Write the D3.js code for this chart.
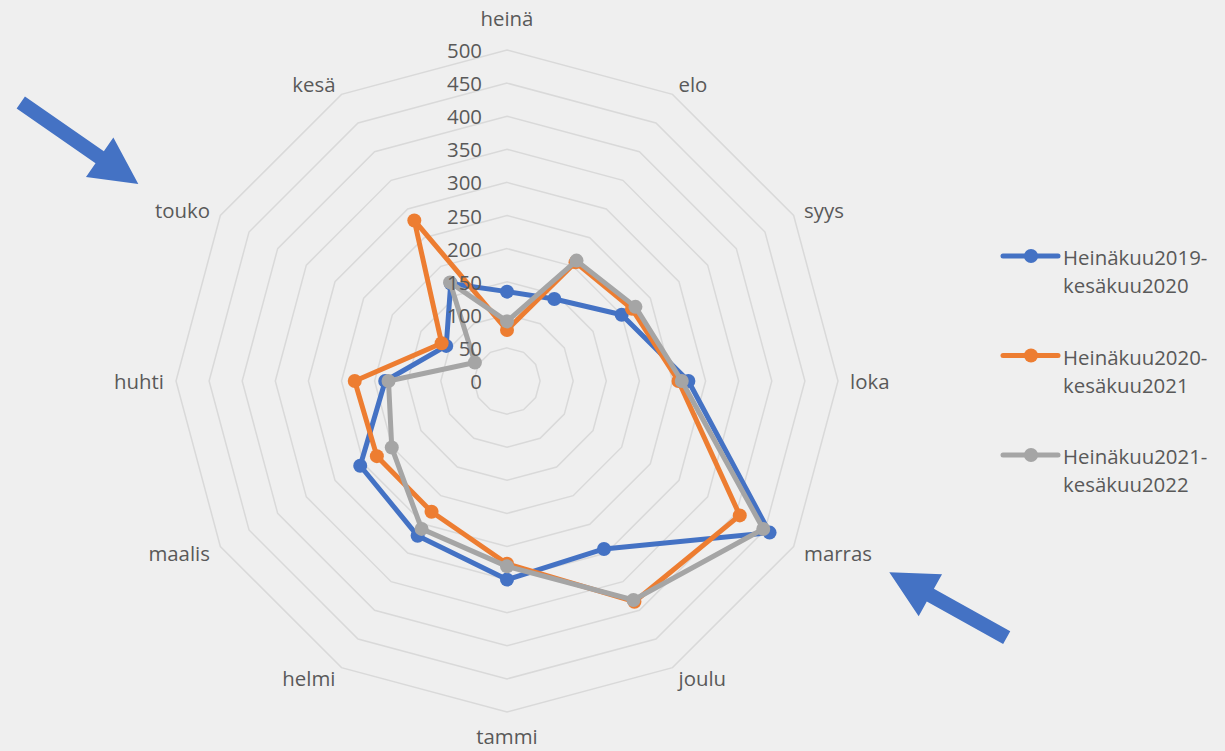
<!DOCTYPE html>
<html>
<head>
<meta charset="utf-8">
<style>
  body { margin: 0; background: #efefef; }
  svg { display: block; }
</style>
</head>
<body>
<svg width="1225" height="751" font-family="'Open Sans', sans-serif" font-size="20.4"></svg>
<script src="https://d3js.org/d3.v7.min.js"></script>
<script>

// months, July -> June
var months = ["heinä", "elo", "syys", "loka", "marras", "joulu",
              "tammi", "helmi", "maalis", "huhti", "touko", "kesä"];

var seriesNames = [
  ["Heinäkuu2019-", "kesäkuu2020"],
  ["Heinäkuu2020-", "kesäkuu2021"],
  ["Heinäkuu2021-", "kesäkuu2022"]
];

var s2019 = [135, 143, 200, 274, 458, 293, 300, 270, 256, 184, 106, 170];
var s2020 = [77, 207, 218, 259, 406, 385, 276, 228, 227, 230, 114, 280];
var s2021 = [90, 210, 224, 264, 447, 382, 280, 258, 201, 179, 56, 172];

var ticks = [0, 50, 100, 150, 200, 250, 300, 350, 400, 450, 500];

var colors = ["#4472c4", "#ed7d31", "#a5a5a5"];

var svg = d3.select("svg"),
    width = +svg.attr("width"),
    height = +svg.attr("height");

svg.append("rect").attr("width", width).attr("height", height).attr("fill", "#efefef");

var cx = 507, cy = 381, R = 331;

var r = d3.scaleLinear().domain([0, 500]).range([0, R]);
// 12 months spread over 330 degrees, last one just before closing the circle
var angle = d3.scalePoint().domain(months).range([0, 2 * Math.PI * 11 / 12]);

function pt(m, v) {
  var a = angle(m);
  return [cx + r(v) * Math.sin(a), cy - r(v) * Math.cos(a)];
}

var g = svg.append("g");

// grid rings
g.selectAll(".ring")
  .data(ticks.slice(1))
  .enter().append("polygon")
    .attr("class", "ring")
    .attr("points", function(t) { return months.map(function(m) { return pt(m, t).join(","); }).join(" "); })
    .attr("fill", "none")
    .attr("stroke", "#d9d9d9")
    .attr("stroke-width", 1.5);

// month labels
g.selectAll(".cat")
  .data(months)
  .enter().append("text")
    .attr("class", "cat")
    .attr("fill", "#595959")
    .attr("dominant-baseline", "central")
    .attr("text-anchor", function(m) {
      var s = Math.sin(angle(m));
      return s > 0.01 ? "start" : s < -0.01 ? "end" : "middle";
    })
    .attr("x", function(m) { return cx + (R + 12) * Math.sin(angle(m)); })
    .attr("y", function(m) {
      var a = angle(m), c = Math.cos(a), y = cy - (R + 12) * c;
      if (Math.abs(Math.sin(a)) < 0.01) y -= c > 0 ? 20 : -12;
      return y;
    })
    .text(function(m) { return m; });

// series
var data = [s2019, s2020, s2021];
var line = d3.line().curve(d3.curveLinearClosed);

data.forEach(function(vals, i) {
  var pts = vals.map(function(v, k) { return pt(months[k], v); });
  g.append("path")
    .attr("d", line(pts))
    .attr("fill", "none")
    .attr("stroke", colors[i])
    .attr("stroke-width", 5)
    .attr("stroke-linejoin", "round");
  g.selectAll(".dot" + i)
    .data(pts)
    .enter().append("circle")
      .attr("class", "dot" + i)
      .attr("cx", function(d) { return d[0]; })
      .attr("cy", function(d) { return d[1]; })
      .attr("r", 7)
      .attr("fill", colors[i]);
});

// tick labels
g.selectAll(".tick")
  .data(ticks)
  .enter().append("text")
    .attr("class", "tick")
    .attr("fill", "#595959")
    .attr("text-anchor", "end")
    .attr("dominant-baseline", "central")
    .attr("x", cx - 25)
    .attr("y", function(t) { return cy - r(t); })
    .text(function(t) { return t; });

// legend
var legend = svg.selectAll(".legend")
  .data(seriesNames)
  .enter().append("g")
    .attr("class", "legend")
    .attr("transform", function(d, i) { return "translate(1003," + (256 + i * 99.5) + ")"; });

legend.append("line")
  .attr("x1", 0).attr("x2", 55)
  .attr("stroke", function(d, i) { return colors[i]; })
  .attr("stroke-width", 5)
  .attr("stroke-linecap", "round");
legend.append("circle")
  .attr("cx", 28).attr("r", 7)
  .attr("fill", function(d, i) { return colors[i]; });
legend.append("text")
  .attr("fill", "#595959")
  .attr("x", 60)
  .selectAll("tspan")
  .data(function(d) { return d; })
  .enter().append("tspan")
    .attr("x", 60)
    .attr("y", function(d, j) { return 1 + j * 28; })
    .attr("dominant-baseline", "central")
    .text(function(d) { return d; });

// block arrows pointing at touko and marras
function arrow(tail, tip) {
  var dx = tip[0] - tail[0], dy = tip[1] - tail[1],
      len = Math.sqrt(dx * dx + dy * dy),
      a = Math.atan2(dy, dx) * 180 / Math.PI,
      sw = 7.3, hw = 24, hl = 47;
  var shape = [[0, -sw], [len - hl, -sw], [len - hl, -hw], [len, 0], [len - hl, hw], [len - hl, sw], [0, sw]];
  svg.append("polygon")
    .attr("points", shape.map(function(p) { return p.join(","); }).join(" "))
    .attr("fill", "#4472c4")
    .attr("transform", "translate(" + tail[0] + "," + tail[1] + ") rotate(" + a + ")");
}
arrow([20.8, 102.5], [138.3, 184]);
arrow([1006.7, 637.7], [889.3, 572.3]);

</script>
</body>
</html>
